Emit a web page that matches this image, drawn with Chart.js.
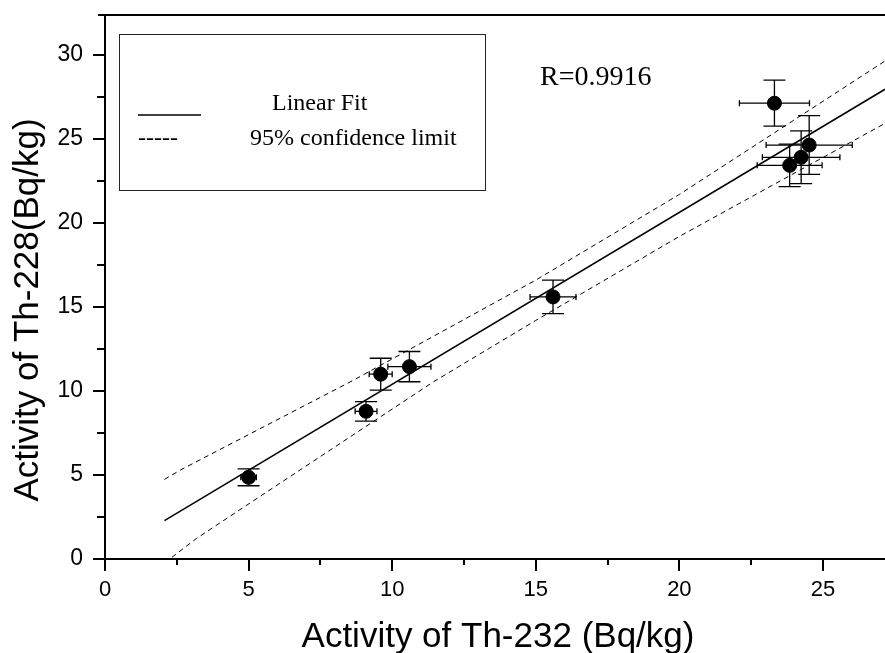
<!DOCTYPE html>
<html>
<head>
<meta charset="utf-8">
<script src="https://cdn.jsdelivr.net/npm/chart.js@4/dist/chart.umd.min.js"></script>
<style>
  html, body { margin: 0; padding: 0; background: #fff; }
  #wrap { width: 885px; height: 653px; }
</style>
</head>
<body>
<div id="wrap"><canvas id="th-chart" width="885" height="653"></canvas></div>
<script>
// measured samples (Th-232 vs Th-228 activity, Bq/kg)
var th232 = [5.0, 9.09, 9.6, 10.6, 15.6, 23.31, 23.84, 24.24, 24.52];
var th228 = [4.86, 8.79, 11.0, 11.45, 15.6, 27.13, 23.43, 23.91, 24.64];
var th232Err = [0.27, 0.38, 0.4, 0.75, 0.8, 1.22, 1.13, 1.35, 1.5];
var th228Err = [0.5, 0.58, 0.95, 0.9, 1.0, 1.37, 1.26, 1.57, 1.75];

// linear fit line, ends
var fitX = [2.07, 27.16];
var fitY = [2.28, 27.96];

// 95% confidence limits
var upperX = [2.07, 2.63, 8.66, 15.0, 20.0, 27.16];
var upperY = [4.74, 5.30, 10.65, 16.6, 21.7, 29.64];
var lowerX = [2.33, 3.19, 11.44, 15.0, 20.0, 27.16];
var lowerY = [0.1, 1.23, 10.55, 14.2, 19.2, 25.93];

var xTicks = [0, 5, 10, 15, 20, 25];
var yTicks = [0, 5, 10, 15, 20, 25, 30];

function pts(xs, ys) {
  return xs.map(function (x, i) { return { x: x, y: ys[i] }; });
}

var sansFont = "'Liberation Sans', Arial, sans-serif";
var serifFont = "'Liberation Serif', 'Times New Roman', serif";

// error bars under the dots
var errorBars = {
  id: "errorBars",
  beforeDatasetsDraw: function (chart) {
    var xs = chart.scales.x, ys = chart.scales.y, ctx = chart.ctx;
    ctx.save();
    ctx.strokeStyle = "#000";
    ctx.lineWidth = 1.3;
    th232.forEach(function (x, i) {
      var px = xs.getPixelForValue(x), py = ys.getPixelForValue(th228[i]);
      var x0 = xs.getPixelForValue(x - th232Err[i]), x1 = xs.getPixelForValue(x + th232Err[i]);
      var y0 = ys.getPixelForValue(th228[i] - th228Err[i]), y1 = ys.getPixelForValue(th228[i] + th228Err[i]);
      ctx.beginPath();
      ctx.moveTo(px, y0); ctx.lineTo(px, y1);
      ctx.moveTo(px - 11, y0); ctx.lineTo(px + 11, y0);
      ctx.moveTo(px - 11, y1); ctx.lineTo(px + 11, y1);
      ctx.moveTo(x0, py); ctx.lineTo(x1, py);
      ctx.moveTo(x0, py - 3); ctx.lineTo(x0, py + 3);
      ctx.moveTo(x1, py - 3); ctx.lineTo(x1, py + 3);
      ctx.stroke();
    });
    ctx.restore();
  }
};

// frame, tick marks, axis titles, legend box and R value
var decorations = {
  id: "decorations",
  afterDraw: function (chart) {
    var xs = chart.scales.x, ys = chart.scales.y, ctx = chart.ctx;
    var a = chart.chartArea;
    ctx.save();
    ctx.strokeStyle = "#000";
    ctx.lineWidth = 2;
    ctx.beginPath();
    ctx.moveTo(98, a.top); ctx.lineTo(a.right, a.top);
    ctx.stroke();

    ctx.beginPath();
    for (var v = 0; v <= ys.max; v += 2.5) {
      var py = Math.round(ys.getPixelForValue(v));
      var len = (v % 5 === 0) ? 12 : 8;
      ctx.moveTo(a.left - len, py); ctx.lineTo(a.left, py);
    }
    for (var u = 0; u <= xs.max; u += 2.5) {
      var px = Math.round(xs.getPixelForValue(u));
      var l2 = (u % 5 === 0) ? 12 : 6;
      ctx.moveTo(px, a.bottom); ctx.lineTo(px, a.bottom + l2);
    }
    ctx.stroke();

    ctx.fillStyle = "#000";
    ctx.font = "35px " + sansFont;
    ctx.textAlign = "center";
    ctx.textBaseline = "alphabetic";
    ctx.fillText("Activity of Th-232 (Bq/kg)", 498, 647);
    ctx.save();
    ctx.translate(38, 310);
    ctx.rotate(-Math.PI / 2);
    ctx.fillText("Activity of Th-228(Bq/kg)", 0, 0);
    ctx.restore();

    // legend
    ctx.lineWidth = 1;
    ctx.strokeStyle = "#222";
    ctx.strokeRect(119.5, 34.5, 366, 156);
    ctx.lineWidth = 1.3;
    ctx.strokeStyle = "#000";
    ctx.beginPath();
    ctx.moveTo(138, 115); ctx.lineTo(201, 115);
    ctx.stroke();
    ctx.font = "24px " + serifFont;
    ctx.textAlign = "left";
    ctx.fillText("Linear Fit", 272, 110);
    ctx.fillText("-----", 138, 145);
    ctx.fillText("95% confidence limit", 250, 145);

    ctx.font = "28px " + serifFont;
    ctx.fillText("R=0.9916", 540, 85);
    ctx.restore();
  }
};

function noPad(s) {
  s.paddingTop = 0; s.paddingBottom = 0; s.paddingLeft = 0; s.paddingRight = 0;
}

var config = {
  type: "scatter",
  data: {
    datasets: [
      {
        label: "Samples",
        data: pts(th232, th228),
        backgroundColor: "#000",
        borderColor: "#000",
        pointRadius: 7,
        pointHoverRadius: 7,
        order: 0
      },
      {
        label: "Linear Fit",
        data: pts(fitX, fitY),
        showLine: true,
        borderColor: "#000",
        borderWidth: 1.5,
        pointRadius: 0,
        order: 1
      },
      {
        label: "95% confidence limit",
        data: pts(upperX, upperY),
        showLine: true,
        borderColor: "#000",
        borderWidth: 1,
        borderDash: [5, 4],
        pointRadius: 0,
        order: 1
      },
      {
        label: "95% confidence limit (lower)",
        data: pts(lowerX, lowerY),
        showLine: true,
        borderColor: "#000",
        borderWidth: 1,
        borderDash: [5, 4],
        pointRadius: 0,
        order: 1
      }
    ]
  },
  options: {
    responsive: false,
    animation: false,
    layout: { autoPadding: false, padding: { top: 15, right: 0, left: 0, bottom: 0 } },
    plugins: {
      legend: { display: false },
      tooltip: { enabled: false }
    },
    scales: {
      x: {
        type: "linear",
        min: 0,
        max: 27.16,
        afterFit: function (s) { s.height = 94; noPad(s); },
        afterBuildTicks: function (s) { s.ticks = xTicks.map(function (v) { return { value: v }; }); },
        grid: { display: false, drawTicks: false },
        border: { display: true, color: "#000", width: 2 },
        ticks: { color: "#000", font: { family: sansFont, size: 22 }, padding: 18, maxRotation: 0 }
      },
      y: {
        type: "linear",
        min: 0,
        max: 32.38,
        afterFit: function (s) { s.width = 105; noPad(s); },
        afterBuildTicks: function (s) { s.ticks = yTicks.map(function (v) { return { value: v }; }); },
        grid: { display: false, drawTicks: false },
        border: { display: true, color: "#000", width: 2 },
        ticks: { color: "#000", font: { family: sansFont, size: 23 }, padding: 22 }
      }
    }
  },
  plugins: [errorBars, decorations]
};

var ctx = document.getElementById("th-chart").getContext("2d");
window.thChart = new Chart(ctx, config);
</script>
</body>
</html>
